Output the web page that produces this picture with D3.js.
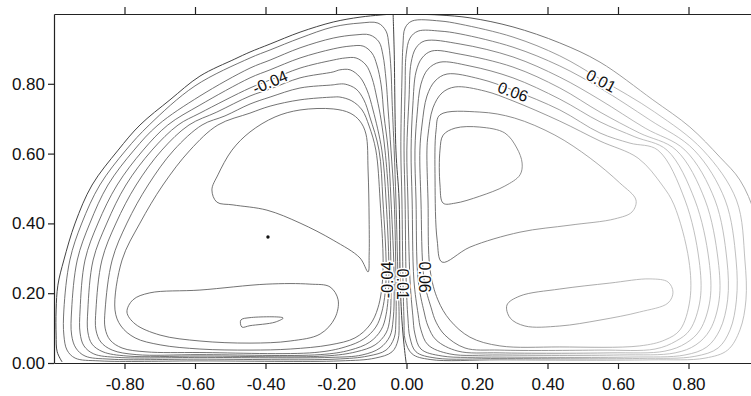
<!DOCTYPE html>
<html>
<head>
<meta charset="utf-8">
<script src="https://cdn.jsdelivr.net/npm/d3@7"></script>
<style>
  body { margin: 0; background: #fff; }
  svg text { font-family: "Liberation Sans", Arial, sans-serif; }
</style>
</head>
<body>
<svg id="chart" width="751" height="396"></svg>
<script>
// axis ticks
const xTicks = [-0.8, -0.6, -0.4, -0.2, 0, 0.2, 0.4, 0.6, 0.8];
const yTicks = [0, 0.2, 0.4, 0.6, 0.8];

// zero contour: left wall, the line down the middle, right wall
const zeroLeft = [[-0.977,0.003],[-0.991,0.032],[-0.994,0.080],[-0.994,0.152],[-0.989,0.223],[-0.972,0.295],[-0.940,0.401],[-0.892,0.510],[-0.818,0.610],[-0.756,0.682],[-0.671,0.754],[-0.586,0.822],[-0.487,0.871],[-0.444,0.891],[-0.387,0.914],[-0.302,0.948],[-0.208,0.977],[-0.132,0.991],[-0.075,0.997],[-0.038,1.000]];
const zeroCentre = [[-0.038,1.000],[-0.035,0.897],[-0.030,0.610],[-0.021,0.467],[-0.018,0.238],[-0.013,0.123],[-0.007,0.052],[-0.001,0.000]];
const zeroRight = [[-0.038,1.000],[0.038,0.999],[0.095,0.997],[0.180,0.989],[0.302,0.963],[0.435,0.917],[0.549,0.862],[0.699,0.754],[0.804,0.676],[0.889,0.590],[0.946,0.524],[0.989,0.424],[1.009,0.295],[1.011,0.123],[1.003,0.003]];

// left cell, negative levels -0.01 ... -0.09
const neg1 = [[-0.972,0.152],[-0.955,0.295],[-0.921,0.401],[-0.870,0.510],[-0.796,0.610],[-0.730,0.682],[-0.600,0.794],[-0.444,0.874],[-0.387,0.897],[-0.302,0.931],[-0.208,0.963],[-0.132,0.974],[-0.081,0.974],[-0.058,0.951],[-0.050,0.911],[-0.044,0.840],[-0.041,0.754],[-0.035,0.610],[-0.030,0.467],[-0.024,0.238],[-0.021,0.123],[-0.024,0.066],[-0.041,0.032],[-0.089,0.014],[-0.189,0.006],[-0.586,0.006],[-0.870,0.006],[-0.940,0.014],[-0.963,0.037],[-0.972,0.080]];
const neg2 = [[-0.950,0.152],[-0.934,0.295],[-0.898,0.401],[-0.847,0.510],[-0.773,0.610],[-0.705,0.682],[-0.586,0.765],[-0.444,0.845],[-0.387,0.868],[-0.302,0.903],[-0.208,0.931],[-0.146,0.940],[-0.104,0.940],[-0.078,0.920],[-0.067,0.883],[-0.058,0.811],[-0.052,0.725],[-0.044,0.610],[-0.035,0.467],[-0.030,0.238],[-0.030,0.123],[-0.035,0.072],[-0.058,0.037],[-0.109,0.020],[-0.203,0.011],[-0.586,0.011],[-0.841,0.011],[-0.912,0.020],[-0.938,0.043],[-0.950,0.080]];
const neg3 = [[-0.926,0.152],[-0.912,0.295],[-0.875,0.401],[-0.821,0.510],[-0.747,0.610],[-0.677,0.682],[-0.586,0.739],[-0.444,0.817],[-0.387,0.840],[-0.302,0.874],[-0.208,0.900],[-0.160,0.908],[-0.123,0.908],[-0.098,0.888],[-0.084,0.854],[-0.072,0.797],[-0.064,0.711],[-0.052,0.610],[-0.044,0.467],[-0.035,0.238],[-0.038,0.123],[-0.047,0.077],[-0.075,0.043],[-0.126,0.023],[-0.217,0.016],[-0.586,0.016],[-0.818,0.016],[-0.887,0.026],[-0.915,0.049],[-0.926,0.086]];
const neg4 = [[-0.904,0.152],[-0.889,0.295],[-0.850,0.401],[-0.796,0.510],[-0.722,0.610],[-0.648,0.682],[-0.586,0.716],[-0.444,0.788],[-0.387,0.811],[-0.302,0.845],[-0.208,0.868],[-0.174,0.874],[-0.143,0.874],[-0.115,0.854],[-0.098,0.817],[-0.084,0.759],[-0.072,0.696],[-0.061,0.610],[-0.050,0.467],[-0.044,0.238],[-0.047,0.129],[-0.058,0.086],[-0.089,0.052],[-0.143,0.032],[-0.231,0.020],[-0.586,0.020],[-0.793,0.020],[-0.861,0.032],[-0.892,0.054],[-0.904,0.089]];
const neg5 = [[-0.881,0.152],[-0.864,0.295],[-0.824,0.401],[-0.767,0.510],[-0.694,0.610],[-0.617,0.682],[-0.538,0.719],[-0.444,0.765],[-0.387,0.785],[-0.302,0.817],[-0.208,0.834],[-0.189,0.840],[-0.160,0.840],[-0.132,0.819],[-0.112,0.782],[-0.095,0.725],[-0.070,0.610],[-0.058,0.467],[-0.050,0.238],[-0.058,0.138],[-0.072,0.095],[-0.104,0.060],[-0.160,0.037],[-0.245,0.024],[-0.586,0.024],[-0.767,0.024],[-0.835,0.037],[-0.867,0.060],[-0.881,0.095]];
const neg6 = [[-0.855,0.152],[-0.835,0.295],[-0.793,0.401],[-0.733,0.510],[-0.660,0.610],[-0.580,0.682],[-0.515,0.708],[-0.444,0.742],[-0.387,0.762],[-0.302,0.788],[-0.208,0.797],[-0.194,0.799],[-0.174,0.799],[-0.143,0.785],[-0.121,0.754],[-0.104,0.705],[-0.078,0.610],[-0.067,0.467],[-0.058,0.238],[-0.070,0.146],[-0.087,0.103],[-0.121,0.069],[-0.174,0.046],[-0.260,0.030],[-0.586,0.030],[-0.739,0.032],[-0.807,0.043],[-0.841,0.066],[-0.855,0.100]];
const neg7 = [[-0.827,0.152],[-0.807,0.295],[-0.756,0.401],[-0.691,0.510],[-0.614,0.610],[-0.535,0.682],[-0.444,0.716],[-0.387,0.736],[-0.302,0.754],[-0.208,0.762],[-0.189,0.762],[-0.155,0.751],[-0.126,0.725],[-0.106,0.679],[-0.087,0.610],[-0.075,0.467],[-0.067,0.252],[-0.081,0.158],[-0.104,0.109],[-0.146,0.072],[-0.217,0.052],[-0.330,0.040],[-0.444,0.037],[-0.586,0.040],[-0.699,0.052],[-0.770,0.072],[-0.810,0.106]];
const neg8Upper = [[-0.552,0.496],[-0.535,0.539],[-0.495,0.610],[-0.444,0.662],[-0.373,0.705],[-0.302,0.725],[-0.208,0.728],[-0.160,0.716],[-0.132,0.693],[-0.115,0.656],[-0.109,0.553],[-0.106,0.410],[-0.106,0.309],[-0.109,0.261],[-0.132,0.301],[-0.208,0.352],[-0.302,0.401],[-0.396,0.438],[-0.492,0.453],[-0.538,0.461]];
const neg8Lower = [[-0.793,0.146],[-0.776,0.181],[-0.728,0.201],[-0.586,0.209],[-0.396,0.226],[-0.274,0.226],[-0.217,0.218],[-0.194,0.181],[-0.203,0.129],[-0.245,0.083],[-0.330,0.063],[-0.444,0.057],[-0.586,0.063],[-0.699,0.080],[-0.770,0.112]];
const neg9 = [[-0.470,0.123],[-0.444,0.130],[-0.350,0.129],[-0.373,0.117],[-0.444,0.107],[-0.467,0.103]];
const leftSpot = [[-0.393, 0.361]];

// right cell, positive levels 0.01 ... 0.09
const pos1 = [[-0.007,0.123],[-0.010,0.238],[-0.013,0.467],[-0.016,0.610],[-0.013,0.811],[-0.010,0.911],[-0.004,0.960],[0.016,0.980],[0.095,0.980],[0.152,0.971],[0.302,0.934],[0.435,0.880],[0.549,0.814],[0.704,0.719],[0.841,0.610],[0.936,0.467],[0.960,0.295],[0.963,0.181],[0.946,0.095],[0.911,0.037],[0.847,0.014],[0.691,0.009],[0.265,0.009],[0.067,0.010],[0.016,0.026],[-0.004,0.066]];
const pos2 = [[0.004,0.129],[-0.001,0.238],[-0.004,0.467],[-0.007,0.610],[-0.004,0.782],[-0.001,0.883],[0.010,0.931],[0.033,0.951],[0.095,0.951],[0.152,0.943],[0.302,0.905],[0.435,0.851],[0.549,0.788],[0.691,0.696],[0.816,0.610],[0.904,0.467],[0.935,0.295],[0.936,0.181],[0.918,0.095],[0.884,0.043],[0.818,0.019],[0.661,0.013],[0.265,0.013],[0.084,0.014],[0.027,0.032],[0.010,0.072]];
const pos3 = [[0.018,0.135],[0.010,0.238],[0.004,0.467],[0.001,0.610],[0.007,0.754],[0.013,0.860],[0.027,0.903],[0.052,0.923],[0.152,0.914],[0.302,0.877],[0.435,0.819],[0.549,0.754],[0.677,0.673],[0.790,0.610],[0.875,0.467],[0.909,0.295],[0.911,0.181],[0.889,0.095],[0.852,0.046],[0.790,0.023],[0.634,0.017],[0.265,0.017],[0.101,0.020],[0.041,0.040],[0.024,0.083]];
const pos4 = [[0.033,0.140],[0.021,0.238],[0.016,0.467],[0.013,0.610],[0.018,0.739],[0.027,0.834],[0.044,0.874],[0.072,0.894],[0.152,0.885],[0.302,0.848],[0.435,0.788],[0.549,0.719],[0.661,0.659],[0.765,0.610],[0.847,0.467],[0.884,0.295],[0.887,0.181],[0.861,0.095],[0.821,0.052],[0.762,0.029],[0.605,0.023],[0.265,0.023],[0.123,0.026],[0.061,0.052],[0.041,0.095]];
const pos5 = [[0.050,0.146],[0.033,0.238],[0.027,0.467],[0.024,0.610],[0.030,0.711],[0.041,0.799],[0.061,0.842],[0.095,0.862],[0.180,0.851],[0.302,0.817],[0.435,0.756],[0.549,0.691],[0.648,0.648],[0.739,0.610],[0.818,0.467],[0.858,0.295],[0.861,0.181],[0.833,0.095],[0.793,0.057],[0.733,0.034],[0.577,0.029],[0.265,0.029],[0.146,0.034],[0.084,0.066],[0.061,0.106]];
const pos6 = [[0.070,0.158],[0.050,0.238],[0.041,0.467],[0.038,0.610],[0.044,0.682],[0.058,0.765],[0.081,0.808],[0.115,0.828],[0.208,0.814],[0.302,0.782],[0.435,0.725],[0.549,0.659],[0.634,0.630],[0.713,0.610],[0.790,0.467],[0.830,0.295],[0.833,0.181],[0.804,0.095],[0.765,0.063],[0.705,0.040],[0.549,0.037],[0.265,0.037],[0.166,0.043],[0.109,0.080],[0.084,0.117]];
const pos7 = [[0.089,0.181],[0.067,0.266],[0.061,0.467],[0.058,0.610],[0.061,0.653],[0.075,0.731],[0.101,0.774],[0.138,0.791],[0.223,0.779],[0.302,0.751],[0.435,0.693],[0.549,0.636],[0.657,0.587],[0.725,0.510],[0.759,0.453],[0.801,0.295],[0.804,0.181],[0.776,0.095],[0.733,0.066],[0.662,0.049],[0.435,0.046],[0.265,0.049],[0.180,0.074],[0.123,0.123]];
const pos8Upper = [[0.084,0.668],[0.095,0.711],[0.208,0.719],[0.306,0.702],[0.421,0.653],[0.521,0.587],[0.605,0.516],[0.651,0.467],[0.640,0.433],[0.591,0.413],[0.464,0.395],[0.322,0.375],[0.180,0.332],[0.101,0.289],[0.087,0.352],[0.081,0.524]];
const pos8Lower = [[0.285,0.166],[0.322,0.192],[0.435,0.212],[0.577,0.229],[0.691,0.241],[0.742,0.232],[0.756,0.203],[0.742,0.172],[0.661,0.146],[0.549,0.123],[0.435,0.106],[0.336,0.106],[0.294,0.129]];
const pos9 = [[0.095,0.610],[0.104,0.653],[0.138,0.673],[0.208,0.676],[0.279,0.659],[0.313,0.616],[0.328,0.573],[0.322,0.539],[0.279,0.507],[0.208,0.478],[0.138,0.458],[0.104,0.458],[0.095,0.510]];

// inline contour labels (text and anchor point in axis units)
const labelText = ["-0.04", "0.06", "0.01", "-0.04", "0.01", "0.06"];
const labelX = [-0.387, 0.302, 0.552, -0.053, -0.011, 0.050];
const labelY = [0.805, 0.777, 0.808, 0.238, 0.226, 0.246];
const labelAngle = [-23, 20, 28, -90, 90, 90];

const openLines = [zeroLeft, zeroCentre, zeroRight];
const closedLines = [neg1, neg2, neg3, neg4, neg5, neg6, neg7, neg8Upper, neg8Lower, neg9,
                     pos1, pos2, pos3, pos4, pos5, pos6, pos7, pos8Upper, pos8Lower, pos9];

const svg = d3.select("#chart");
const x = d3.scaleLinear().domain([-1, 1]).range([54, 759]);
const y = d3.scaleLinear().domain([0, 1]).range([363, 14]);

svg.append("defs").append("clipPath").attr("id", "plot")
  .append("rect").attr("x", 54).attr("y", 14).attr("width", 697).attr("height", 349);

const fade = svg.select("defs").append("linearGradient")
  .attr("id", "fade").attr("gradientUnits", "userSpaceOnUse")
  .attr("x1", 440).attr("x2", 650).attr("y1", 0).attr("y2", 0);
fade.append("stop").attr("offset", "0%").attr("stop-color", "#fff").attr("stop-opacity", 0);
fade.append("stop").attr("offset", "100%").attr("stop-color", "#fff").attr("stop-opacity", 0.55);

const g = svg.append("g").attr("clip-path", "url(#plot)");

const openPath = d3.line().x(d => x(d[0])).y(d => y(d[1])).curve(d3.curveCatmullRom.alpha(0.5));
const closedPath = d3.line().x(d => x(d[0])).y(d => y(d[1])).curve(d3.curveCatmullRomClosed.alpha(0.5));

g.selectAll("path.open").data(openLines).join("path")
  .attr("class", "open")
  .attr("d", openPath)
  .attr("fill", "none")
  .attr("stroke", "#444")
  .attr("stroke-width", 1);

g.selectAll("path.loop").data(closedLines).join("path")
  .attr("class", "loop")
  .attr("d", closedPath)
  .attr("fill", "none")
  .attr("stroke", "#5a5a5a")
  .attr("stroke-width", 0.85);

g.selectAll("circle.spot").data(leftSpot).join("circle")
  .attr("class", "spot")
  .attr("cx", d => x(d[0])).attr("cy", d => y(d[1]))
  .attr("r", 1.7).attr("fill", "#111");

// the right half of the scan is washed out
g.append("rect").attr("x", 440).attr("y", 15).attr("width", 320).attr("height", 346)
  .attr("fill", "url(#fade)");

// contour labels
g.selectAll("text.lab").data(labelText).join("text")
  .attr("class", "lab")
  .attr("transform", (d, i) => `translate(${x(labelX[i])},${y(labelY[i])}) rotate(${labelAngle[i]})`)
  .attr("text-anchor", "middle")
  .attr("dominant-baseline", "central")
  .attr("font-size", 16)
  .attr("fill", "#111")
  .attr("stroke", "#fff")
  .attr("stroke-width", 3)
  .attr("paint-order", "stroke")
  .text(d => d);

// axes
const fmt = d => d.toFixed(2);

const xAxis = svg.append("g").attr("transform", "translate(0,363)")
  .call(d3.axisBottom(x).tickValues(xTicks).tickFormat(fmt).tickSize(6).tickSizeOuter(0).tickPadding(9));
const topAxis = svg.append("g").attr("transform", "translate(0,14)")
  .call(d3.axisTop(x).tickValues(xTicks).tickFormat("").tickSize(7).tickSizeOuter(0));
const yAxis = svg.append("g").attr("transform", "translate(54,0)")
  .call(d3.axisLeft(y).tickValues(yTicks).tickFormat(fmt).tickSize(6).tickSizeOuter(0).tickPadding(3));

[xAxis, topAxis, yAxis].forEach(a => {
  a.selectAll("path, line").attr("stroke", "#222").attr("stroke-width", 1.2);
  a.selectAll("text").attr("font-size", 17).attr("fill", "#111")
    .attr("font-family", "'Liberation Sans', Arial, sans-serif");
});
</script>
</body>
</html>
